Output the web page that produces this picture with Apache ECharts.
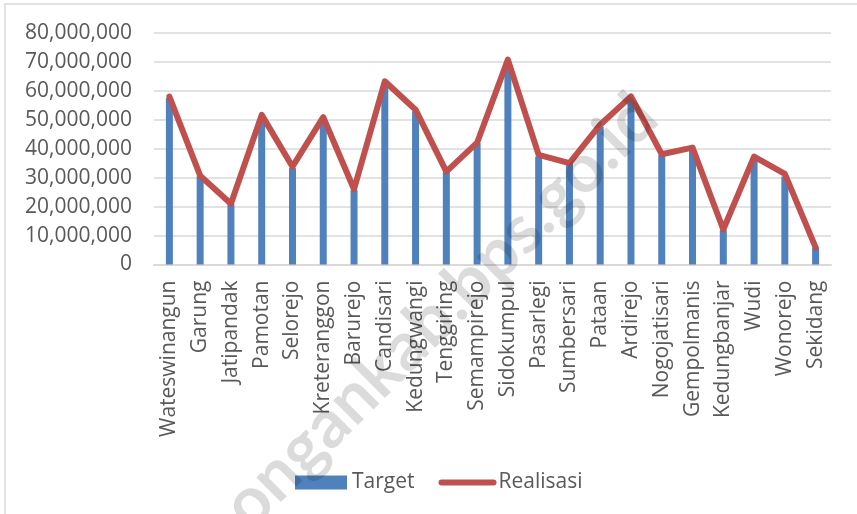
<!DOCTYPE html>
<html><head><meta charset="utf-8">
<script src="https://cdn.jsdelivr.net/npm/echarts@6/dist/echarts.min.js"></script>
<style>html,body{margin:0;padding:0;background:#fff}#c{width:857px;height:514px}</style>
</head><body><div id="c"></div>
<script>
const categories = ['Wateswinangun','Garung','Jatipandak','Pamotan','Selorejo','Kreteranggon','Barurejo','Candisari','Kedungwangi','Tenggiring','Semampirejo','Sidokumpul','Pasarlegi','Sumbersari','Pataan','Ardirejo','Nogojatisari','Gempolmanis','Kedungbanjar','Wudi','Wonorejo','Sekidang'];
const target = [57500000,30500000,21000000,50000000,33300000,48800000,25700000,62000000,53000000,32000000,42000000,68300000,37300000,35000000,47700000,57000000,37800000,40000000,11900000,36100000,30400000,5900000];
const realisasi = [58000000,30700000,21000000,51700000,33800000,50900000,26000000,63300000,53500000,32100000,42100000,70800000,37900000,35000000,48300000,58100000,38100000,40400000,12100000,37300000,31300000,5900000];
const yTicks = [0,10000000,20000000,30000000,40000000,50000000,60000000,70000000,80000000];
const watermark = 'lamongankab.bps.go.id';

const fmt = v => v === 0 ? '0' : v.toLocaleString('en-US');
const chart = echarts.init(document.getElementById('c'), null, {renderer:'canvas'});
chart.setOption({
  animation:false,
  textStyle:{fontFamily:'Open Sans'},
  grid:{left:154,right:26,top:33,bottom:249.5,containLabel:false},
  legend:{
    bottom:16,left:290,itemGap:24,itemWidth:52,itemHeight:14,
    textStyle:{fontSize:21,color:'#595959',fontFamily:'Open Sans'},
    data:[
      {name:'Target',icon:'rect'},
      {name:'Realisasi',itemStyle:{opacity:0},lineStyle:{width:6,cap:'round'}}
    ]
  },
  xAxis:{
    type:'category',data:categories,
    axisLine:{lineStyle:{color:'#d9d9d9',width:2}},
    axisTick:{show:false},
    axisLabel:{rotate:90,interval:0,margin:16,fontSize:21,color:'#595959',fontFamily:'Open Sans'}
  },
  yAxis:{
    type:'value',min:yTicks[0],max:yTicks[yTicks.length-1],interval:yTicks[1]-yTicks[0],
    axisLine:{show:false},axisTick:{show:false},
    splitLine:{lineStyle:{color:'#d9d9d9',width:1.5}},
    axisLabel:{fontSize:21,color:'#595959',margin:22,fontFamily:'Open Sans',formatter:fmt}
  },
  series:[
    {name:'Target',type:'bar',data:target,barWidth:7,itemStyle:{color:'#4F81BD'}},
    {name:'Realisasi',type:'line',data:realisasi,symbol:'none',lineStyle:{color:'#C0504D',width:6,join:'round',cap:'round'},itemStyle:{color:'#C0504D'}}
  ],
  graphic:[
    {type:'rect',silent:true,shape:{x:5,y:4,width:900,height:600},style:{fill:'none',stroke:'#d9d9d9',lineWidth:1.5},z:0},
    {type:'text',silent:true,x:646,y:106,rotation:Math.PI/4,z:100,
     style:{text:watermark,fontSize:68,fontWeight:'bold',fontFamily:'Lato',fill:'rgba(0,0,0,0.14)',align:'right',verticalAlign:'middle'}}
  ]
});
</script></body></html>
